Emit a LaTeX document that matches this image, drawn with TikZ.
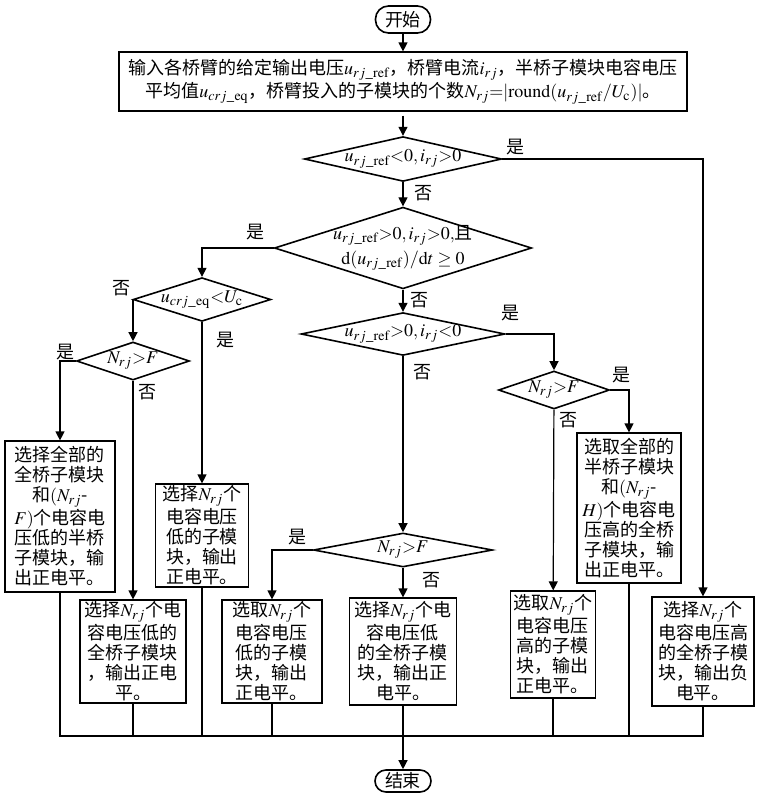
\documentclass[tikz,border=0pt]{standalone}
\usepackage{amsmath}
\usepackage{mathptmx}
\usepackage[no-math]{fontspec}
\setmainfont{Liberation Serif}
\newfontfamily\cjk{Noto Sans CJK SC}
\usetikzlibrary{%
    arrows.meta,
    positioning,
    shapes.geometric
}

\begin{document}
\begin{tikzpicture}[x=0.5pt, y=-0.5pt, line width=0.6pt,
    font=\cjk\fontsize{9}{10}\selectfont,
    term/.style={draw, line width=0.8pt, inner sep=0pt},
    cond/.style={draw, diamond, line width=0.8pt, inner sep=0pt, align=center},
    proc/.style={draw, inner sep=0pt, align=center},
    lbl/.style={inner sep=0pt},
    arr/.style={-{Triangle[length=4.5pt, width=4.5pt]}}]
    \useasboundingbox (0,0) rectangle (759,800);

    \node[term, rounded corners=6.5pt, minimum width=27.5pt, minimum height=13.5pt] (start) at (403,19.5) {开始};
    \node[proc, minimum width=284pt, minimum height=29.5pt] (input) at (403,81.5)
        {输入各桥臂的给定输出电压$u_{rj\_\mathrm{ref}}$，桥臂电流$i_{rj}$，半桥子模块电容电压\\平均值$u_{crj\_\mathrm{eq}}$，桥臂投入的子模块的个数$N_{rj}{=}|\mathrm{round}(u_{rj\_\mathrm{ref}}/U_\mathrm{c})|$。};

    % conditions
    \node[cond, aspect=4.4, minimum width=94.5pt, minimum height=21.5pt] (c1) at (403,159) {$u_{rj\_\mathrm{ref}}{<}0,i_{rj}{>}0$};
    \node[cond, aspect=3.15, inner ysep=-2pt, minimum width=123pt, minimum height=39pt] (c2) at (403,248)
        {$u_{rj\_\mathrm{ref}}{>}0,i_{rj}{>}0,$且\\[2.5pt]$\mathrm{d}(u_{rj\_\mathrm{ref}})/\mathrm{d}t\geq 0$};
    \node[cond, aspect=3.15, minimum width=64.5pt, minimum height=20.5pt] (c3) at (202,299.5) {$u_{crj\_\mathrm{eq}}{<}U_\mathrm{c}$};
    \node[cond, aspect=4.76, minimum width=90.5pt, minimum height=19pt] (c4) at (403,334) {$u_{rj\_\mathrm{ref}}{>}0,i_{rj}{<}0$};
    \node[cond, aspect=2.97, minimum width=56.5pt, minimum height=19pt] (c5) at (133,361) {$N_{rj}{>}F$};
    \node[cond, aspect=2.92, minimum width=55.5pt, minimum height=19pt] (c6) at (554,390) {$N_{rj}{>}F$};
    \node[cond, aspect=5.26, minimum width=89.5pt, minimum height=17pt] (c7) at (403,550) {$N_{rj}{>}F$};

    % actions
    \node[proc, minimum width=55pt, minimum height=75.5pt] (bA) at (60,516.5)
        {选择全部的\\全桥子模块\\和$(N_{rj}$-\\$F)$个电容电\\压低的半桥\\子模块，输\\出正电平。};
    \node[proc, minimum width=46.5pt, minimum height=51.5pt] (bD) at (202,535.5)
        {选择$N_{rj}$个\\电容电压\\低的子模\\块，输出\\正电平。};
    \node[proc, minimum width=53pt, minimum height=51.5pt] (bB) at (133,651.5)
        {选择$N_{rj}$个电\\容电压低的\\全桥子模块\\，输出正电\\平。};
    \node[proc, minimum width=50pt, minimum height=51.5pt] (bE) at (272,651.5)
        {选取$N_{rj}$个\\电容电压\\低的子模\\块，输出\\正电平。};
    \node[proc, minimum width=53.5pt, minimum height=53.5pt] (bF) at (403,651.5)
        {选择$N_{rj}$个电\\容电压低\\的全桥子模\\块，输出正\\电平。};
    \node[proc, minimum width=42.5pt, minimum height=53.5pt] (bG) at (553,644.5)
        {选取$N_{rj}$个\\电容电压\\高的子模\\块，输出\\正电平。};
    \node[proc, minimum width=52pt, minimum height=75pt] (bC) at (629,508)
        {选取全部的\\半桥子模块\\和$(N_{rj}$-\\$H)$个电容电\\压高的全桥\\子模块，输\\出正电平。};
    \node[proc, minimum width=51pt, minimum height=54.5pt] (bH) at (703,651.5)
        {选择$N_{rj}$个\\电容电压高\\的全桥子模\\块，输出负\\电平。};

    \node[term, rounded corners=5.5pt, minimum width=28pt, minimum height=11pt] (stop) at (403,781) {结束};
    \coordinate (join) at (403,736);

    % yes / no
    \node[lbl, above right=1.5pt and 1.5pt of c1.east] (y1) {是};
    \node[lbl, below right=1.5pt and 5.5pt of c1.south] (n1) {否};
    \node[lbl, above left=3.5pt and 4pt of c2.west] (y2) {是};
    \node[lbl, below right=1pt and 3.5pt of c2.south] (n2) {否};
    \node[lbl, below right=4.5pt and 7pt of c3.south] (y3) {是};
    \node[lbl, above left=1.5pt and 0.5pt of c3.west] (n3) {否};
    \node[lbl, above=6pt of c4.east, xshift=2.5pt] (y4) {是};
    \node[lbl, below right=4pt and 5pt of c4.south] (n4) {否};
    \node[lbl, above left=0pt and 0.5pt of c5.west] (y5) {是};
    \node[lbl, below right=1.5pt and 2.5pt of c5.south] (n5) {否};
    \node[lbl, above right=3pt and 1pt of c6.east] (y6) {是};
    \node[lbl, below right=1pt and 2.5pt of c6.south] (n6) {否};
    \node[lbl, above left=2pt and 3pt of c7.west] (y7) {是};
    \node[lbl, below right=2pt and 9.5pt of c7.south] (n7) {否};

    \draw[arr, shorten <=2pt] (input) -- (c1);
    \foreach \Source/\Target in {start/input, c1/c2, c2/c4, c4/c7, c3/bD, c5/bB, c6/bG, c7/bF}
        \draw[arr] (\Source) -- (\Target);
    \foreach \Source/\Target in {c1.east/bH, c2.west/c3, c3.west/c5, c5.west/bA, c4.east/c6, c6.east/bC, c7.west/bE}
        \draw[arr] (\Source) -| (\Target);

    \draw (bA) |- (join) -| (bH);
    \foreach \Box in {bB, bD, bE, bF, bG, bC}
        \draw (\Box) -- (\Box |- join);
    \draw[arr] (join) -- (stop);
\end{tikzpicture}
\end{document}
